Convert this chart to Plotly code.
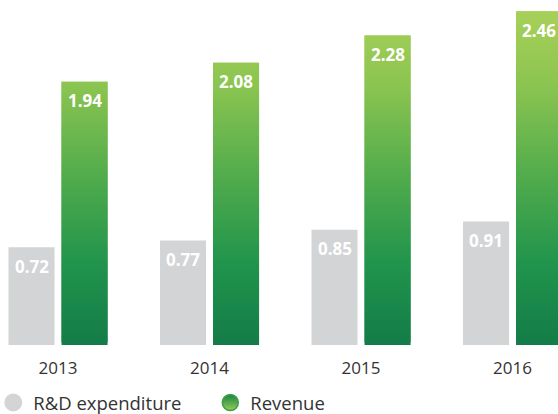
import plotly.graph_objects as go

years = ["2013", "2014", "2015", "2016"]
rd_expenditure = [0.72, 0.77, 0.85, 0.91]
revenue = [1.94, 2.08, 2.28, 2.46]

GRAY = "rgb(211,212,214)"
# gradient stops by absolute y value (value, rgb)
stops = [(0.0, (20, 124, 72)), (0.6, (33, 148, 76)), (1.2, (78, 170, 76)),
         (1.9, (138, 196, 80)), (2.5, (170, 209, 90))]

def grad_color(v):
    for (v0, c0), (v1, c1) in zip(stops[:-1], stops[1:]):
        if v <= v1:
            t = (v - v0) / (v1 - v0)
            c = [round(a + (b - a) * t) for a, b in zip(c0, c1)]
            return f"rgb({c[0]},{c[1]},{c[2]})"
    c = stops[-1][1]
    return f"rgb({c[0]},{c[1]},{c[2]})"

# each revenue bar is drawn as thin stacked slices (overlapping slightly to avoid seams)
step = 0.02
seg_x, seg_base, seg_h, seg_c = [], [], [], []
for yr, v in zip(years, revenue):
    b = 0.0
    while b < v - 1e-9:
        h = min(step * 2, v - b)
        seg_x.append(yr)
        seg_base.append(b)
        seg_h.append(h)
        seg_c.append(grad_color(b + step / 2))
        b += step

fig = go.Figure()
fig.add_trace(go.Bar(x=years, y=rd_expenditure, name="R&D expenditure",
                     marker=dict(color=GRAY, line=dict(width=0)),
                     showlegend=False, hoverinfo="skip"))
fig.add_trace(go.Bar(x=seg_x, y=seg_h, base=seg_base, name="Revenue",
                     marker=dict(color=seg_c, line=dict(width=0)),
                     showlegend=False, hoverinfo="skip"))

# legend proxies
fig.add_trace(go.Scatter(x=[None], y=[None], mode="markers", name="R&D expenditure",
                         marker=dict(symbol="circle", size=16, color=GRAY,
                                     line=dict(width=2, color=GRAY))))
fig.add_trace(go.Scatter(x=[None], y=[None], mode="markers", name="Revenue",
                         marker=dict(symbol="circle", size=16, color="rgb(22,130,70)",
                                     gradient=dict(type="vertical", color="rgb(150,205,85)"),
                                     line=dict(width=1.5, color="rgb(60,160,70)"))))

LABEL_FONT = dict(family="Open Sans, Noto Sans, sans-serif", size=17, color="white", weight="bold")
annotations = []
for i, v in enumerate(rd_expenditure):
    annotations.append(dict(x=i, y=v, xref="x", yref="y", text=f"{v:.2f}",
                            showarrow=False, xshift=-26.5, yshift=-19, font=LABEL_FONT))
for i, v in enumerate(revenue):
    annotations.append(dict(x=i, y=v, xref="x", yref="y", text=f"{v:.2f}",
                            showarrow=False, xshift=26.5, yshift=-19, font=LABEL_FONT))

fig.update_layout(
    width=558, height=414,
    margin=dict(l=0, r=0, t=0, b=69, autoexpand=False),
    paper_bgcolor="white", plot_bgcolor="white",
    barmode="group", bargap=0.30, bargroupgap=0.132,
    annotations=annotations,
    showlegend=True,
    legend=dict(orientation="h", x=-0.012, xanchor="left", y=-0.113, yanchor="top",
                font=dict(family="Open Sans, Noto Sans, sans-serif", size=18.5, color="#333333"),
                entrywidth=172, entrywidthmode="pixels", itemsizing="trace",
                itemwidth=30, bgcolor="rgba(0,0,0,0)"),
    xaxis=dict(type="category", range=[-0.383, 3.30], showgrid=False, showline=False,
               zeroline=False, ticks="", ticklabelstandoff=11,
               tickfont=dict(family="Open Sans, Noto Sans, sans-serif", size=17, color="#333333")),
    yaxis=dict(range=[0, 2.542], visible=False, showgrid=False, zeroline=False),
)

fig.write_html("out.html", config={"displayModeBar": False},
               post_script="document.body.style.margin='0px';")
